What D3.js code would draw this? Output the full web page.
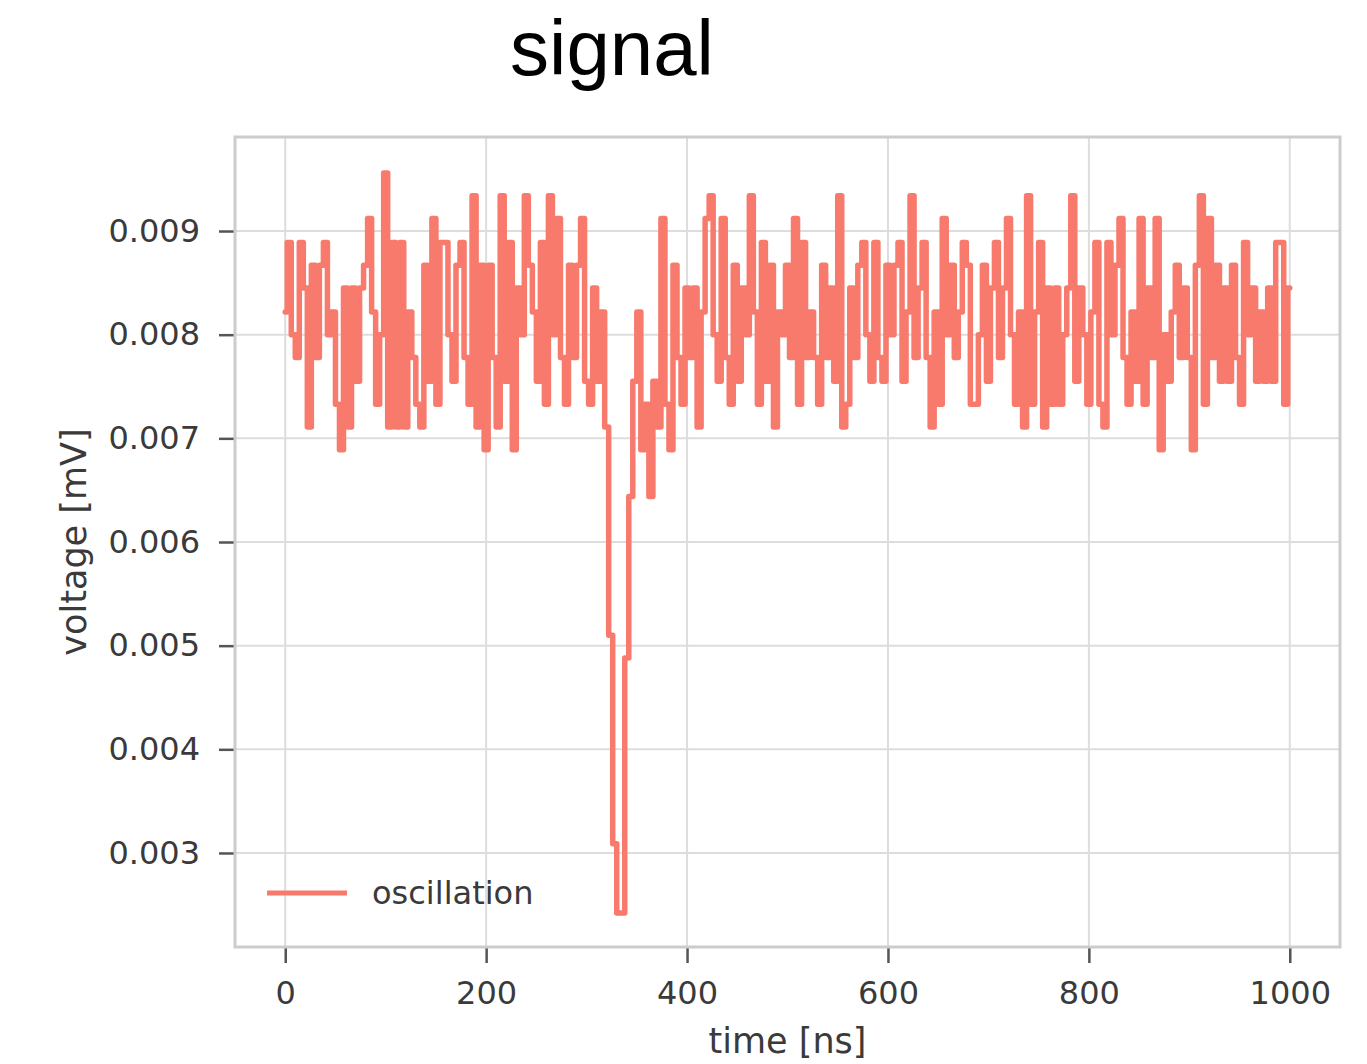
<!DOCTYPE html>
<html>
<head>
<meta charset="utf-8">
<script src="https://cdn.jsdelivr.net/npm/d3@7"></script>
<style>
  html, body { margin: 0; padding: 0; background: #ffffff; }
  svg { display: block; }
</style>
</head>
<body>
<svg id="chart" width="1367" height="1064"></svg>
<script>
// ---------- data ----------
const chartTitle = "signal";
const seriesName = "oscillation";
const xLabel = "time [ns]";
const yLabel = "voltage [mV]";
const sampleStepNs = 4;            // sampling interval of the trace
const timeStartNs = 0;
const timeEndNs = 1000;

// voltage samples (mV), one every 4 ns from 0 to 1000 ns
const voltage = [
  0.00822,0.00889,0.00800,0.00778,0.00889,0.00845,0.00711,0.00867,0.00778,0.00867,
  0.00889,0.00800,0.00822,0.00733,0.00689,0.00845,0.00711,0.00845,0.00755,0.00845,
  0.00867,0.00912,0.00822,0.00733,0.00800,0.00956,0.00711,0.00889,0.00711,0.00889,
  0.00711,0.00822,0.00778,0.00733,0.00711,0.00867,0.00755,0.00912,0.00733,0.00889,
  0.00889,0.00800,0.00755,0.00867,0.00889,0.00778,0.00733,0.00934,0.00711,0.00867,
  0.00689,0.00867,0.00778,0.00711,0.00934,0.00755,0.00889,0.00689,0.00845,0.00800,
  0.00934,0.00867,0.00822,0.00755,0.00889,0.00733,0.00934,0.00800,0.00912,0.00778,
  0.00733,0.00867,0.00778,0.00867,0.00912,0.00755,0.00733,0.00845,0.00755,0.00822,
  0.00711,0.00510,0.00309,0.00242,0.00242,0.00488,0.00644,0.00755,0.00822,0.00689,
  0.00733,0.00644,0.00755,0.00711,0.00912,0.00733,0.00689,0.00867,0.00778,0.00733,
  0.00845,
  0.00778,0.00845,0.00711,0.00822,0.00912,0.00934,0.00800,0.00755,0.00912,0.00778,
  0.00733,0.00867,0.00755,0.00845,0.00800,0.00934,0.00822,0.00733,0.00889,0.00755,
  0.00867,0.00711,0.00822,0.00800,0.00867,0.00778,0.00912,0.00733,0.00889,0.00778,
  0.00822,0.00778,0.00733,0.00867,0.00778,0.00845,0.00755,0.00934,0.00711,0.00733,
  0.00845,0.00778,0.00867,
  0.00889,0.00800,0.00755,0.00889,0.00778,0.00755,0.00867,0.00800,0.00867,0.00889,
  0.00755,0.00822,0.00934,0.00778,0.00845,0.00889,0.00778,0.00711,0.00822,0.00733,
  0.00912,0.00800,0.00867,0.00778,0.00822,0.00889,0.00867,0.00733,0.00733,0.00800,
  0.00867,0.00755,0.00845,0.00889,0.00778,0.00845,0.00912,0.00800,0.00733,0.00822,
  0.00711,0.00934,
  0.00733,0.00822,0.00889,0.00711,0.00845,0.00733,0.00845,0.00733,0.00800,0.00845,
  0.00934,0.00755,0.00845,0.00800,0.00733,0.00822,0.00889,0.00733,0.00711,0.00889,
  0.00800,0.00867,0.00912,0.00778,0.00733,0.00822,0.00755,0.00912,0.00733,0.00845,
  0.00778,0.00912,0.00689,0.00800,0.00755,0.00822,0.00867,0.00778,0.00845,0.00778,
  0.00689,0.00867,0.00934,0.00733,0.00912,0.00778,0.00867,0.00755,0.00845,0.00755,
  0.00867,0.00778,0.00733,0.00889,0.00800,0.00845,0.00755,0.00822,0.00755,0.00845,
  0.00755,0.00889,0.00889,0.00733,0.00845
];

const xTicks = [0, 200, 400, 600, 800, 1000];
const yTicks = [0.003, 0.004, 0.005, 0.006, 0.007, 0.008, 0.009];
const xDomain = [-50, 1050];
const yDomain = [0.002093, 0.009907];

// ---------- layout ----------
const plot = { left: 235, right: 1340, top: 137, bottom: 947 };
const lineColor = "#f87a6d";
const gridColor = "#dddddd";
const frameColor = "#cccccc";
const textColor = "#3a3a3a";
const tickFont = "'DejaVu Sans', sans-serif";

const time = d3.range(timeStartNs, timeEndNs + sampleStepNs / 2, sampleStepNs);
const data = time.map((t, i) => ({ t, v: voltage[i] }));

const svg = d3.select("#chart");

const x = d3.scaleLinear().domain(xDomain).range([plot.left, plot.right]);
const y = d3.scaleLinear().domain(yDomain).range([plot.bottom, plot.top]);

// grid
const grid = svg.append("g");
grid.selectAll("line.vx").data(xTicks).enter().append("line")
  .attr("x1", d => x(d)).attr("x2", d => x(d))
  .attr("y1", plot.top).attr("y2", plot.bottom)
  .attr("stroke", gridColor).attr("stroke-width", 2);
grid.selectAll("line.hy").data(yTicks).enter().append("line")
  .attr("y1", d => y(d)).attr("y2", d => y(d))
  .attr("x1", plot.left).attr("x2", plot.right)
  .attr("stroke", gridColor).attr("stroke-width", 2);

// axes (ticks + labels)
const xAxis = d3.axisBottom(x).tickValues(xTicks).tickSize(16).tickPadding(18)
  .tickFormat(d3.format("d"));
const yAxis = d3.axisLeft(y).tickValues(yTicks).tickSize(16).tickPadding(19)
  .tickFormat(d3.format(".3f"));

const gx = svg.append("g").attr("transform", `translate(0,${plot.bottom})`).call(xAxis);
const gy = svg.append("g").attr("transform", `translate(${plot.left},0)`).call(yAxis);
[gx, gy].forEach(g => {
  g.select(".domain").remove();
  g.selectAll(".tick line").attr("stroke", "#555").attr("stroke-width", 2.5);
  g.selectAll(".tick text").attr("fill", textColor)
    .style("font-family", tickFont).style("font-size", "32px");
});

// frame
svg.append("rect")
  .attr("x", plot.left).attr("y", plot.top)
  .attr("width", plot.right - plot.left).attr("height", plot.bottom - plot.top)
  .attr("fill", "none").attr("stroke", frameColor).attr("stroke-width", 3);

// series line
const line = d3.line().x(d => x(d.t)).y(d => y(d.v)).curve(d3.curveStep);
svg.append("path").datum(data)
  .attr("d", line)
  .attr("fill", "none")
  .attr("stroke", lineColor)
  .attr("stroke-width", 5.5)
  .attr("stroke-linejoin", "round")
  .attr("stroke-linecap", "round");

// legend
const lg = svg.append("g");
lg.append("line")
  .attr("x1", 267).attr("x2", 347).attr("y1", 893).attr("y2", 893)
  .attr("stroke", lineColor).attr("stroke-width", 5);
lg.append("text")
  .attr("x", 372).attr("y", 893).attr("dy", "0.35em")
  .attr("fill", textColor)
  .style("font-family", tickFont).style("font-size", "32px")
  .text(seriesName);

// axis titles
svg.append("text")
  .attr("x", (plot.left + plot.right) / 2).attr("y", 1053)
  .attr("text-anchor", "middle").attr("fill", textColor)
  .style("font-family", tickFont).style("font-size", "35px")
  .text(xLabel);
svg.append("text")
  .attr("transform", `translate(86,${(plot.top + plot.bottom) / 2}) rotate(-90)`)
  .attr("text-anchor", "middle").attr("fill", textColor)
  .style("font-family", tickFont).style("font-size", "35px")
  .text(yLabel);

// title
svg.append("text")
  .attr("x", 612).attr("y", 75)
  .attr("text-anchor", "middle").attr("fill", "#000")
  .style("font-family", "'Liberation Sans', Arial, sans-serif").style("font-size", "78px")
  .text(chartTitle);
</script>
</body>
</html>
